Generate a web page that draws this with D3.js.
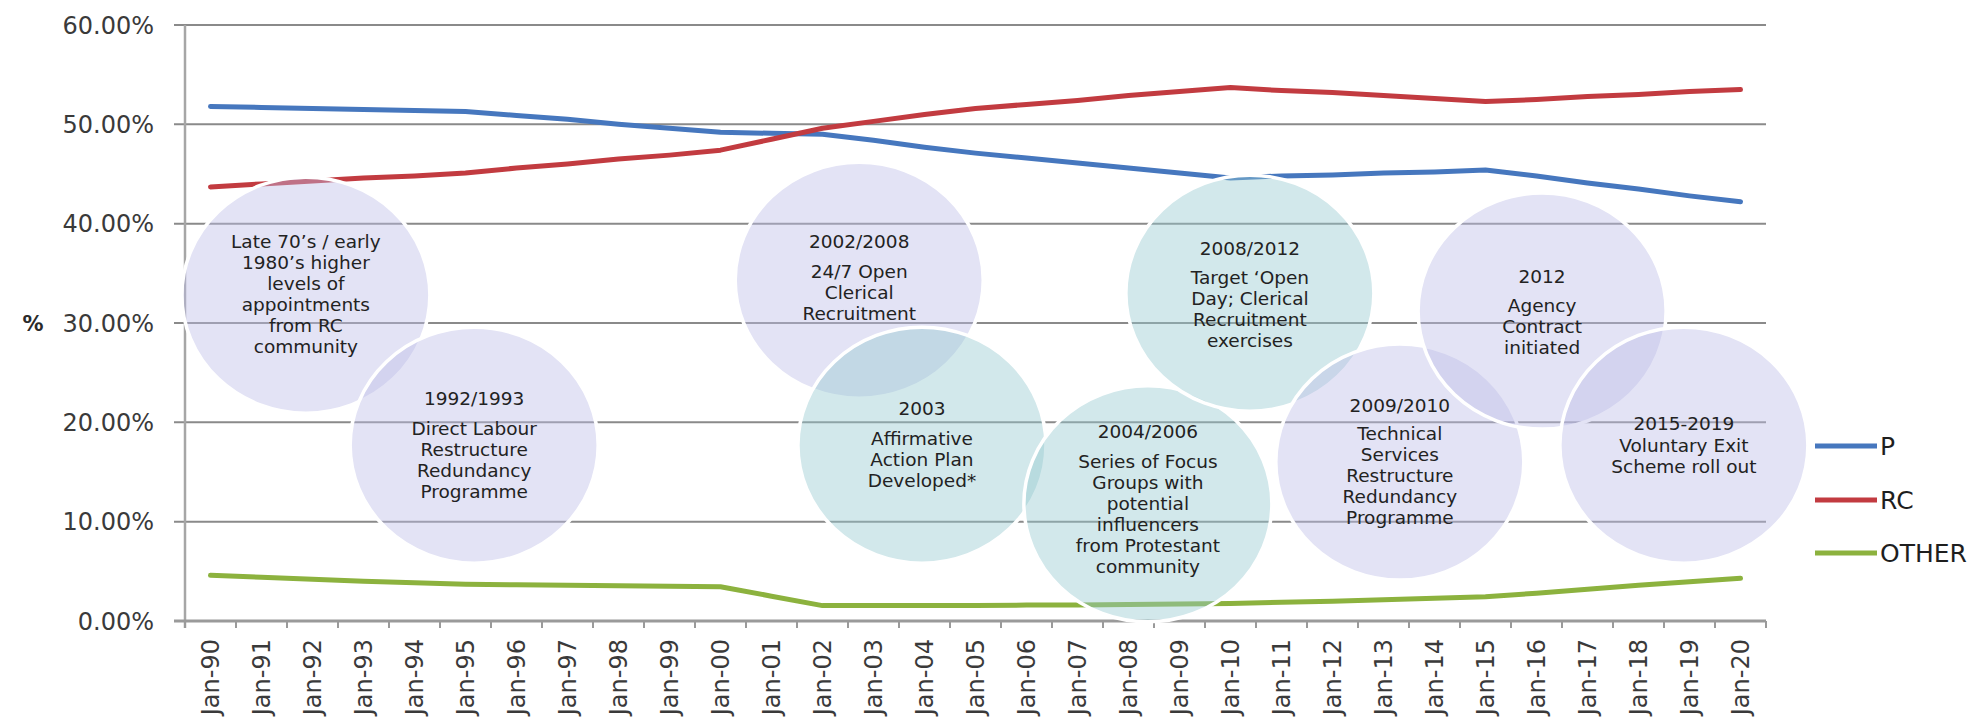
<!DOCTYPE html>
<html>
<head>
<meta charset="utf-8">
<script src="https://cdn.jsdelivr.net/npm/d3@7"></script>
<style>
  body { margin: 0; background: #fff; }
  svg { display: block; }
</style>
</head>
<body>
<svg id="chart" width="1977" height="725"></svg>
<script>
// ---- data ----
const categories = [
  'Jan-90','Jan-91','Jan-92','Jan-93','Jan-94','Jan-95','Jan-96','Jan-97','Jan-98','Jan-99',
  'Jan-00','Jan-01','Jan-02','Jan-03','Jan-04','Jan-05','Jan-06','Jan-07','Jan-08','Jan-09',
  'Jan-10','Jan-11','Jan-12','Jan-13','Jan-14','Jan-15','Jan-16','Jan-17','Jan-18','Jan-19','Jan-20'
];
const pValues = [51.8, 51.7, 51.6, 51.5, 51.4, 51.3, 50.9, 50.5, 50.0, 49.6,
                 49.2, 49.1, 49.0, 48.4, 47.7, 47.1, 46.6, 46.1, 45.6, 45.1,
                 44.6, 44.8, 44.9, 45.1, 45.2, 45.4, 44.8, 44.1, 43.5, 42.8, 42.2];
const rcValues = [43.7, 44.0, 44.3, 44.6, 44.8, 45.1, 45.6, 46.0, 46.5, 46.9,
                  47.4, 48.5, 49.6, 50.3, 51.0, 51.6, 52.0, 52.4, 52.9, 53.3,
                  53.7, 53.4, 53.2, 52.9, 52.6, 52.3, 52.5, 52.8, 53.0, 53.3, 53.5];
const otherValues = [4.6, 4.4, 4.2, 4.0, 3.85, 3.7, 3.65, 3.6, 3.55, 3.5,
                     3.45, 2.5, 1.55, 1.55, 1.55, 1.55, 1.6, 1.6, 1.65, 1.7,
                     1.75, 1.9, 2.0, 2.15, 2.3, 2.45, 2.8, 3.2, 3.6, 3.95, 4.3];
const seriesNames = ['P', 'RC', 'OTHER'];
const yTicks = [0, 10, 20, 30, 40, 50, 60];
const yTickLabels = ['0.00%', '10.00%', '20.00%', '30.00%', '40.00%', '50.00%', '60.00%'];

// event bubbles: anchored at a (fractional) year index and a percentage
const annotationTitles = ['', '1992/1993', '2002/2008', '2003', '2004/2006', '2008/2012', '2009/2010', '2012', '2015-2019'];
const annotationLines = [
  ['Late 70\u2019s / early', '1980\u2019s higher', 'levels of', 'appointments', 'from RC', 'community'],
  ['Direct Labour', 'Restructure', 'Redundancy', 'Programme'],
  ['24/7 Open', 'Clerical', 'Recruitment'],
  ['Affirmative', 'Action Plan', 'Developed*'],
  ['Series of Focus', 'Groups with', 'potential', 'influencers', 'from Protestant', 'community'],
  ['Target \u2018Open', 'Day; Clerical', 'Recruitment', 'exercises'],
  ['Technical', 'Services', 'Restructure', 'Redundancy', 'Programme'],
  ['Agency', 'Contract', 'initiated'],
  ['Voluntary Exit', 'Scheme roll out']
];
const annotationAt  = [1.87, 5.17, 12.72, 13.95, 18.38, 20.38, 23.32, 26.11, 28.89];
const annotationPct = [32.8, 17.7, 34.3, 17.7, 11.8, 33.0, 16.0, 31.2, 17.7];

// ---- layout ----
const svg = d3.select('#chart');
const margin = { left: 185, right: 1766, top: 25, bottom: 621 };
const x = d3.scaleBand().domain(categories).range([margin.left, margin.right]);
const bw = x.bandwidth();
const xc = c => x(c) + bw / 2;
const y = d3.scaleLinear().domain([0, 60]).range([margin.bottom, margin.top]);
const xIdx = d3.scaleLinear().domain([0, categories.length - 1])
  .range([xc(categories[0]), xc(categories[categories.length - 1])]);

const colors = { P: '#4677be', RC: '#c23b40', OTHER: '#8cb23e' };
const bubbleStyle = [
  { fill: 'rgb(188,188,232)' }, // lavender
  { fill: 'rgb(148,200,208)' }  // teal
];
const bubbleKind = [0, 0, 0, 1, 1, 1, 0, 0, 0];
const bubbleOffsets = [
  { first: -47, gap: 21 }, { first: -40, gap: 30 }, { first: -32, gap: 30 },
  { first: -30, gap: 30 }, { first: -66, gap: 30 }, { first: -38, gap: 29 },
  { first: -50, gap: 28 }, { first: -28, gap: 29 }, { first: -15, gap: 22 }
];

// gridlines
svg.append('g').selectAll('line')
  .data(yTicks.filter(t => t > 0))
  .join('line')
  .attr('x1', margin.left - 11).attr('x2', margin.right)
  .attr('y1', d => y(d)).attr('y2', d => y(d))
  .attr('stroke', '#8a8a8a').attr('stroke-width', 2);

// y axis
svg.append('line')
  .attr('x1', margin.left).attr('x2', margin.left)
  .attr('y1', y(60)).attr('y2', y(0) + 7)
  .attr('stroke', '#a6a6a6').attr('stroke-width', 2.5);

// x axis with category boundary ticks
svg.append('line')
  .attr('x1', margin.left - 11).attr('x2', margin.right)
  .attr('y1', y(0)).attr('y2', y(0))
  .attr('stroke', '#9a9a9a').attr('stroke-width', 3);
const tickXs = categories.map(c => x(c)).concat([margin.right]);
svg.append('g').selectAll('line')
  .data(tickXs)
  .join('line')
  .attr('x1', d => d).attr('x2', d => d)
  .attr('y1', y(0)).attr('y2', y(0) + 7)
  .attr('stroke', '#9a9a9a').attr('stroke-width', 2);

// y tick labels
svg.append('g').selectAll('text')
  .data(yTicks)
  .join('text')
  .attr('x', 154).attr('y', d => y(d)).attr('dy', '0.36em')
  .attr('text-anchor', 'end')
  .attr('font-family', 'DejaVu Sans').attr('font-size', 24)
  .attr('fill', '#3a3a3a')
  .text((d, i) => yTickLabels[i]);

// y axis title
svg.append('text')
  .attr('x', 33).attr('y', y(30)).attr('dy', '0.36em')
  .attr('text-anchor', 'middle')
  .attr('font-family', 'DejaVu Sans').attr('font-weight', 'bold').attr('font-size', 21)
  .attr('fill', '#2a2a2a')
  .text('%');

// x tick labels, rotated
svg.append('g').selectAll('text')
  .data(categories)
  .join('text')
  .attr('transform', d => `translate(${xc(d)},${y(0) + 18}) rotate(-90)`)
  .attr('dy', '0.36em')
  .attr('text-anchor', 'end')
  .attr('font-family', 'DejaVu Sans').attr('font-size', 24)
  .attr('fill', '#3a3a3a')
  .text(d => d);

// series lines
const series = [
  { name: 'P', values: pValues },
  { name: 'RC', values: rcValues },
  { name: 'OTHER', values: otherValues }
];
const line = d3.line()
  .x((d, i) => xc(categories[i]))
  .y(d => y(d));
svg.append('g').selectAll('path')
  .data(series)
  .join('path')
  .attr('d', d => line(d.values))
  .attr('fill', 'none')
  .attr('stroke', d => colors[d.name])
  .attr('stroke-width', 5)
  .attr('stroke-linejoin', 'round')
  .attr('stroke-linecap', 'round');

// event bubbles
const bubbles = svg.append('g').selectAll('g')
  .data(annotationTitles.map((t, i) => ({
    title: t, lines: annotationLines[i], at: annotationAt[i], pct: annotationPct[i],
    kind: bubbleKind[i], off: bubbleOffsets[i]
  })))
  .join('g')
  .attr('transform', d => `translate(${xIdx(d.at)},${y(d.pct)})`);

bubbles.append('ellipse')
  .attr('rx', 124).attr('ry', 118)
  .attr('fill', d => bubbleStyle[d.kind].fill)
  .attr('fill-opacity', 0.42)
  .attr('stroke', '#ffffff').attr('stroke-width', 3.5);

bubbles.each(function (d) {
  const g = d3.select(this);
  const rows = [];
  let yy = d.off.first;
  if (d.title) {
    rows.push({ t: d.title, y: yy });
    yy += d.off.gap;
  }
  d.lines.forEach(l => { rows.push({ t: l, y: yy }); yy += 21; });
  g.selectAll('text')
    .data(rows)
    .join('text')
    .attr('x', 0).attr('y', r => r.y)
    .attr('text-anchor', 'middle')
    .attr('font-family', 'DejaVu Sans').attr('font-size', 18.5)
    .attr('fill', '#222222')
    .text(r => r.t);
});

// legend
const legendY = d3.scaleOrdinal().domain(seriesNames).range([446, 500, 553]);
const legend = svg.append('g').selectAll('g')
  .data(seriesNames)
  .join('g')
  .attr('transform', d => `translate(0,${legendY(d)})`);
legend.append('line')
  .attr('x1', 1815).attr('x2', 1877)
  .attr('stroke', d => colors[d]).attr('stroke-width', 5);
legend.append('text')
  .attr('x', 1880).attr('dy', '0.36em')
  .attr('font-family', 'DejaVu Sans').attr('font-size', 25)
  .attr('fill', '#1e1e1e')
  .text(d => d);
</script>
</body>
</html>
